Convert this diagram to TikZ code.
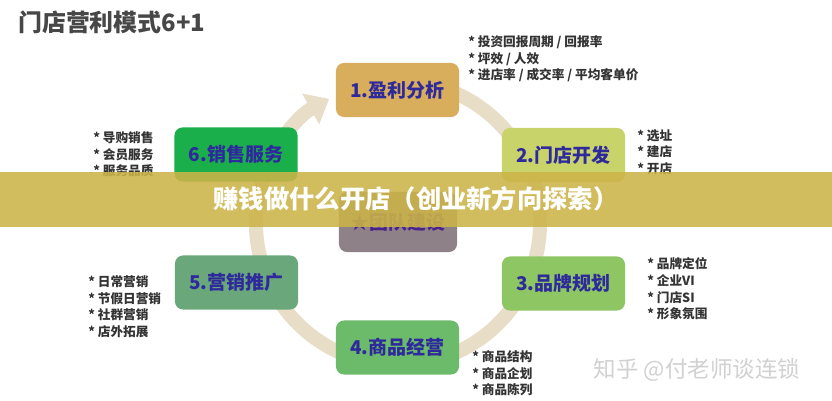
\documentclass[tikz,border=0pt]{standalone}
\usepackage{fontspec}
\setmainfont{Noto Sans CJK SC}
\usetikzlibrary{arrows.meta, calc}
\definecolor{cgold}{RGB}{216,174,92}
\definecolor{cpear}{RGB}{200,211,106}
\definecolor{cleaf}{RGB}{141,198,99}
\definecolor{cgrass}{RGB}{108,187,106}
\definecolor{csage}{RGB}{106,168,124}
\definecolor{cgreen}{RGB}{27,175,75}
\definecolor{cmauve}{RGB}{142,129,135}
\definecolor{cring}{RGB}{232,221,198}
\definecolor{cink}{RGB}{46,42,156}
\definecolor{cband}{RGB}{204,180,72}
\definecolor{ctext}{RGB}{51,51,51}

\begin{document}
\begin{tikzpicture}[x=0.025cm, y=-0.025cm,
    box/.style={rounded corners=0.2cm, minimum width=3.075cm, minimum height=1.35cm, align=center, text=cink, font=\fontsize{13.5}{16}\selectfont\bfseries},
    lst/.style={anchor=north west, inner sep=0pt, align=left, text=ctext, font=\fontsize{9}{12}\selectfont\bfseries},
    ring/.style={line width=0.35cm, cring}]

  \fill[white] (0,0) rectangle (832,400);
  \useasboundingbox (0,0) rectangle (832,400);

  \node[anchor=west, inner sep=0pt, text=black!72, font=\fontsize{17}{19}\selectfont\bfseries] (title) at (18,22) {门店营利模式6+1};

  % 环形
  \coordinate (ctr) at (398,223);
  \draw[ring, -{Triangle[length=15pt,width=24pt]}] ($(ctr)+(-75:142)$) arc[start angle=-75, end angle=241, radius=142];

  % 六个环节
  \node[box, fill=cgold] (p1) at (397.5,90) {1.盈利分析};
  \node[box, fill=cpear] (p2) at (563.5,155) {2.门店开发};
  \node[box, fill=cleaf] (p3) at (563.5,283.5) {3.品牌规划};
  \node[box, fill=cgrass] (p4) at (397.5,347.5) {4.商品经营};
  \node[box, fill=csage] (p5) at (236.5,282.5) {5.营销推广};
  \node[box, fill=cgreen] (p6) at (236,154.5) {6.销售服务};
  \node[box, fill=cmauve, minimum width=2.95cm, minimum height=1.5cm, text=cink!80!purple] (team) at (398,222) {★团队建设};

  % 要点
  \node[lst] (l1) at (468,35) {* 投资回报周期 / 回报率\\* 坪效 / 人效\\* 进店率 / 成交率 / 平均客单价};
  \node[lst] (l2) at (637,129) {* 选址\\* 建店\\* 开店};
  \node[lst] (l3) at (647,257) {* 品牌定位\\* 企业VI\\* 门店SI\\* 形象氛围};
  \node[lst] (l4) at (472,350) {* 商品结构\\* 商品企划\\* 商品陈列};
  \node[lst] (l5) at (88,275) {* 日常营销\\* 节假日营销\\* 社群营销\\* 店外拓展};
  \node[lst] (l6) at (93,131) {* 导购销售\\* 会员服务\\* 服务品质};

  % 横幅
  \fill[cband, fill opacity=0.88] (0,172) rectangle (832,227);
  \node[text=white, font=\fontsize{18}{20}\selectfont\bfseries] (band) at (416,199) {赚钱做什么开店（创业新方向探索）};

  \node[text=black!18, font=\fontsize{16}{18}\selectfont] (mark) at (697,370) {知乎 @付老师谈连锁};
\end{tikzpicture}
\end{document}
